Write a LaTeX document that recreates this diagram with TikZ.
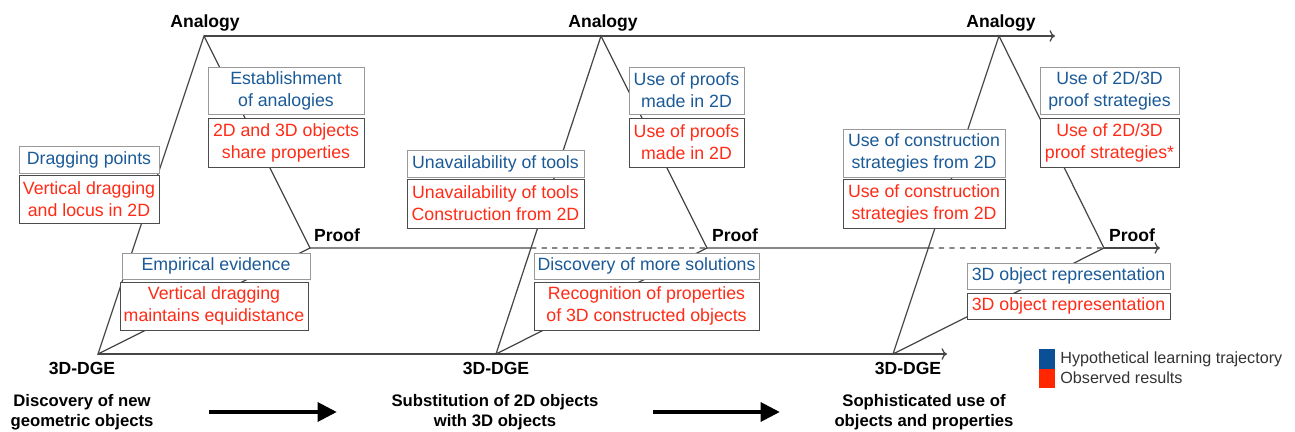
\documentclass[tikz,border=0pt]{standalone}
\usepackage{fontspec}
\setmainfont{Liberation Sans}
\usepackage{xcolor}
\usetikzlibrary{arrows.meta,calc}
\definecolor{hltblue}{HTML}{1B5A98}
\definecolor{obsred}{HTML}{FF2B16}
\definecolor{lgblue}{HTML}{0B4F96}
\definecolor{lgred}{HTML}{FF2600}
\definecolor{linegray}{HTML}{464646}
\newcommand{\boxfont}{\fontsize{10.1}{12.5}\selectfont}
\newcommand{\lblfont}{\bfseries\fontsize{10}{12}\selectfont}

\begin{document}
\begin{tikzpicture}[x=0.02cm,y=-0.02cm,
  ln/.style={draw=linegray,line width=0.7pt},
  hlt/.style={draw=gray!80,fill=white,text=hltblue,align=center,font=\boxfont,inner sep=0pt,line width=0.5pt},
  obs/.style={draw=black!70,fill=white,text=obsred,align=center,font=\boxfont,inner sep=0pt,line width=0.5pt},
  sz/.style 2 args={minimum width=#1*0.02cm,minimum height=#2*0.02cm},
  lbl/.style={font=\lblfont},
  capt/.style={font=\bfseries\fontsize{9.5}{11.6}\selectfont,align=center},
  bigarrow/.style={line width=2.6pt,-{Triangle[length=11pt,width=10.5pt]}}]
\useasboundingbox (0,0) rectangle (1295,432);
% corner points
\coordinate (dge1) at (98,354);
\coordinate (ana1) at (204,36);
\coordinate (prf1) at (310,248);
\coordinate (dge2) at (496,354);
\coordinate (ana2) at (601,36);
\coordinate (prf2) at (707,248);
\coordinate (dge3) at (893,354);
\coordinate (ana3) at (999,36);
\coordinate (prf3) at (1104,248);
\coordinate (x2) at ($(dge2)!1/3!(ana2)$);
\coordinate (x3) at ($(dge3)!1/3!(ana3)$);
\coordinate (anaend) at (1055,36);
\coordinate (prfend) at (1160,248);
\coordinate (dgeend) at (947,354);
%
\draw[ln] (dge1) -- (ana1) -- (prf1) -- cycle;
\draw[ln] (dge2) -- (ana2) -- (prf2) -- cycle;
\draw[ln] (dge3) -- (ana3) -- (prf3) -- cycle;
%
\draw[ln,->] (ana1) -- (anaend);
\draw[ln,->] (dge1) -- (dgeend);
\draw[ln] (prf1) -- (x2);
\draw[ln,dashed] (x2) -- (prf2);
\draw[ln] (prf2) -- (x3);
\draw[ln,dashed] (x3) -- (prf3);
\draw[ln,->] (prf3) -- (prfend);
%
\node[lbl] (analbl1) at (205,23) {Analogy};
\node[lbl] (analbl2) at (603,23) {Analogy};
\node[lbl] (analbl3) at (1001,23) {Analogy};
\node[lbl] (prflbl1) at (337,235) {Proof};
\node[lbl] (prflbl2) at (735,235) {Proof};
\node[lbl] (prflbl3) at (1132,235) {Proof};
\node[lbl] (dgelbl1) at (82,368) {3D-DGE};
\node[lbl] (dgelbl2) at (496,368) {3D-DGE};
\node[lbl] (dgelbl3) at (908,368) {3D-DGE};
%
\node[hlt,sz={140}{27}] (h11) at (89,159.5) {Dragging points};
\node[obs,sz={140}{48}] (o11) at (89,199) {Vertical dragging\\and locus in 2D};
\node[hlt,sz={156}{47}] (h12) at (286,90.5) {Establishment\\of analogies};
\node[obs,sz={156}{49}] (o12) at (286,142.5) {2D and 3D objects\\share properties};
\node[hlt,sz={188}{26}] (h13) at (216,266) {Empirical evidence};
\node[obs,sz={188}{48}] (o13) at (214,306) {Vertical dragging\\maintains equidistance};
%
\node[hlt,sz={177}{27}] (h21) at (495.5,163.5) {Unavailability of tools};
\node[obs,sz={177}{49}] (o21) at (495.5,203.5) {Unavailability of tools\\Construction from 2D};
\node[hlt,sz={115}{47}] (h22) at (686.5,90.5) {Use of proofs\\made in 2D};
\node[obs,sz={115}{49}] (o22) at (686.5,142.5) {Use of proofs\\made in 2D};
\node[hlt,sz={225}{26}] (h23) at (646.5,266) {Discovery of more solutions};
\node[obs,sz={225}{48}] (o23) at (646.5,306) {Recognition of properties\\of 3D constructed objects};
%
\node[hlt,sz={162}{48}] (h31) at (924,153) {Use of construction\\strategies from 2D};
\node[obs,sz={162}{49}] (o31) at (924,203.5) {Use of construction\\strategies from 2D};
\node[hlt,sz={139}{47}] (h32) at (1109.5,90.5) {Use of 2D/3D\\proof strategies};
\node[obs,sz={139}{49}] (o32) at (1109.5,142.5) {Use of 2D/3D\\proof strategies*};
\node[hlt,sz={203}{26}] (h33) at (1068.5,276) {3D object representation};
\node[obs,sz={203}{26}] (o33) at (1068.5,306) {3D object representation};
%
\node[capt] (cap1) at (82,412) {Discovery of new\\geometric objects};
\node[capt] (cap2) at (495,412) {Substitution of 2D objects\\with 3D objects};
\node[capt] (cap3) at (924,412) {Sophisticated use of\\objects and properties};
\coordinate (arr1s) at (209,412);
\coordinate (arr1e) at (337,412);
\coordinate (arr2s) at (653,412);
\coordinate (arr2e) at (780,412);
\draw[bigarrow] (arr1s) -- (arr1e);
\draw[bigarrow] (arr2s) -- (arr2e);
%
\fill[lgblue] (1039,349) rectangle (1055,369);
\fill[lgred] (1039,369) rectangle (1055,388);
\node[anchor=west,inner sep=0pt,text=black!80,font=\fontsize{9.2}{11}\selectfont] (lg1) at (1060,359) {Hypothetical learning trajectory};
\node[anchor=west,inner sep=0pt,text=black!80,font=\fontsize{9.2}{11}\selectfont] (lg2) at (1060,378) {Observed results};
\end{tikzpicture}
\end{document}
